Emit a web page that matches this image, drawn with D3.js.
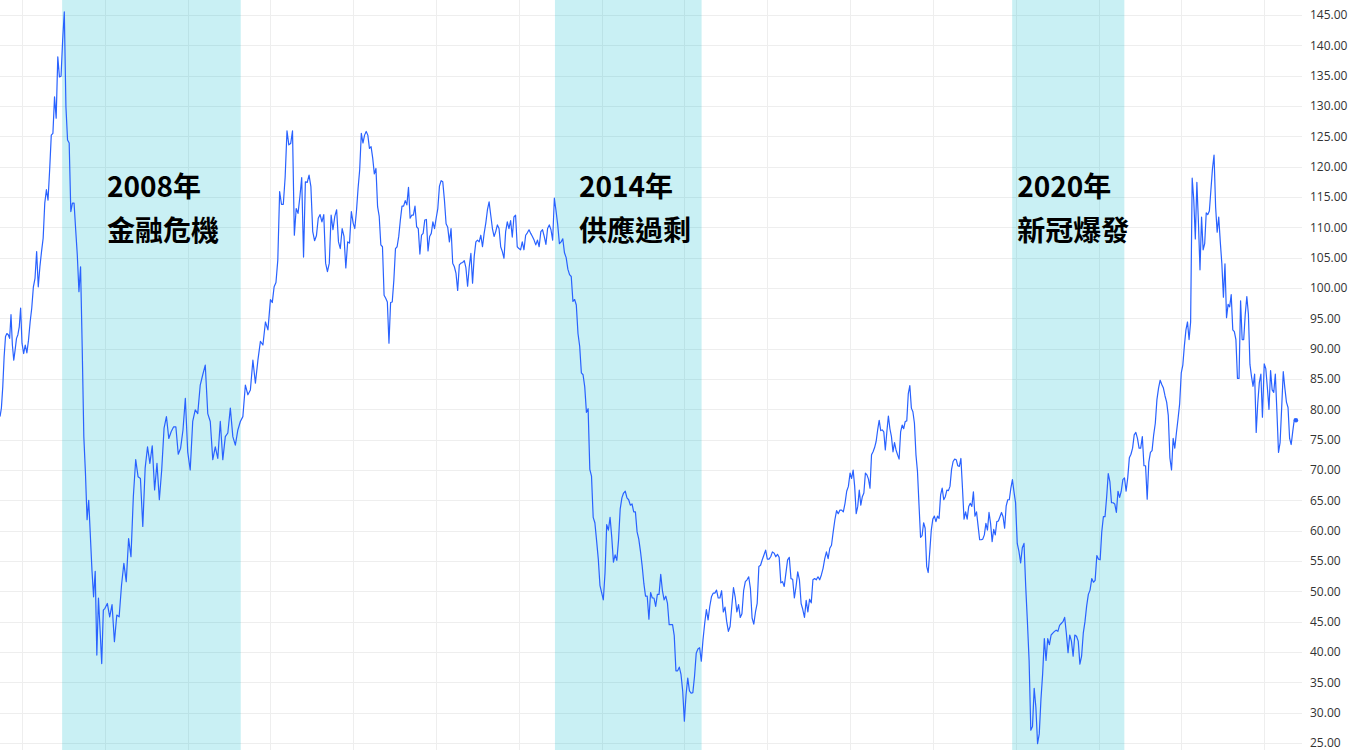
<!DOCTYPE html>
<html>
<head>
<meta charset="utf-8">
<script src="https://cdn.jsdelivr.net/npm/d3@7"></script>
<style>
html,body{margin:0;padding:0;background:#fff;overflow:hidden}
svg{display:block}
</style>
</head>
<body>
<svg id="chart" width="1353" height="750"></svg>
<script>
// ---- Data: weekly Brent crude price (USD), per calendar year ----
const seriesStart = "2007-09-26";
const brent2007 = [78.8, 80.2, 83.7, 88.7, 92.0, 92.5, 92.3, 91.7, 95.6, 90.6, 88.1, 89.8, 91.7, 92.3, 93.6, 96.7];
const brent2008 = [90.9, 89.2, 90.6, 89.3, 91.4, 94.4, 96.7, 100.2, 101.6, 106.0, 100.2, 103.5, 106.0, 108.2, 114.0, 116.2, 114.5, 119.5, 125.2, 125.5, 131.5, 128.0, 138.1, 134.8, 134.9, 140.9, 145.5, 129.9, 124.4, 123.9, 112.6, 114.0, 114.0, 109.6, 105.4, 99.4, 103.5, 90.3, 75.5, 69.5, 61.8, 65.0, 59.3, 53.5, 49.1, 53.3, 39.5, 48.9, 43.6, 38.1, 46.9];
const brent2009 = [47.2, 48.0, 45.8, 47.8, 41.7, 46.1, 45.8, 51.0, 54.6, 51.6, 58.7, 55.7, 65.6, 71.7, 68.9, 68.6, 60.7, 70.3, 73.8, 71.1, 74.0, 66.7, 71.1, 65.1, 70.0, 76.9, 78.8, 75.2, 76.3, 77.1, 77.1, 72.6, 73.6, 76.6, 81.8];
const brent2010 = [73.0, 70.0, 78.0, 79.9, 79.3, 84.0, 85.7, 87.3, 79.3, 78.0, 71.7, 73.8, 71.9, 78.0, 71.7, 75.5, 76.1, 80.2, 75.5, 74.1, 76.6, 78.0, 78.8, 84.0, 82.4, 83.2, 88.1, 84.3, 88.1, 91.2, 90.6, 94.4, 93.1];
const brent2011 = [98.1, 97.6, 100.2, 100.9, 104.6, 115.9, 113.8, 113.8, 118.3, 125.9, 123.6, 123.8, 125.9, 108.7, 113.1, 112.3, 115.0, 118.2, 105.1, 117.5, 117.4, 118.6, 116.7, 109.3, 107.8, 108.6, 111.5, 112.1, 110.9, 112.1, 104.1, 102.7, 104.1, 112.0, 109.6, 111.8, 112.9, 107.6, 106.5, 109.8, 108.5, 103.3, 107.6, 107.4, 112.6];
const brent2012 = [110.7, 109.8, 112.6, 116.4, 119.5, 125.5, 123.9, 125.2, 125.8, 125.2, 123.0, 123.3, 121.4, 118.8, 119.7, 113.4, 111.8, 107.1, 106.8, 98.8, 98.3, 97.7, 90.9, 97.6, 97.7, 101.3, 106.5, 106.8, 108.5, 111.2, 113.5, 113.5, 114.4, 113.7, 116.6, 111.5, 112.0, 112.0, 113.5, 110.1, 109.8, 105.6, 108.7, 109.0, 111.2, 111.3, 106.1, 108.5, 109.0, 110.9, 109.8];
const brent2013 = [111.5, 113.1, 116.8, 117.7, 117.5, 114.5, 110.6, 110.0, 107.6, 109.8, 104.1, 103.5, 102.4, 99.6, 103.8, 104.1, 104.2, 104.5, 103.3, 100.3, 103.5, 105.7, 100.8, 105.2, 107.6, 107.9, 107.6, 108.7, 106.8, 109.0, 110.7, 112.9, 114.2, 112.0, 109.8, 108.5, 109.3, 110.4, 109.8, 106.8, 106.0, 104.9, 109.3, 110.9, 109.8, 111.1, 108.4, 111.7, 112.0, 106.8];
const brent2014 = [106.5, 106.3, 107.6, 106.3, 108.7, 109.1, 109.6, 109.0, 108.5, 107.9, 107.1, 107.9, 106.8, 109.3, 109.6, 108.5, 107.2, 109.8, 110.4, 109.6, 107.9, 114.8, 112.7, 110.4, 107.3, 107.6, 108.1, 105.8, 105.0, 103.1, 102.2, 101.9, 97.8, 98.1, 97.2, 92.5, 90.4, 86.0, 85.7, 83.7, 79.5, 80.1, 70.1, 69.0, 62.2, 61.3, 58.4, 55.4, 51.0];
const brent2015 = [49.8, 48.6, 53.0, 61.0, 60.1, 62.2, 58.9, 54.8, 56.0, 55.1, 58.4, 63.6, 65.4, 66.2, 66.5, 65.4, 65.1, 64.2, 64.4, 63.1, 63.1, 59.8, 58.6, 56.6, 54.2, 51.3, 49.2, 49.2, 45.4, 49.8, 48.9, 48.9, 47.5, 49.5, 49.5, 52.8, 50.1, 48.6, 49.2, 48.0, 44.5, 44.5, 44.5, 42.7, 36.9, 36.9, 37.5, 36.3, 33.6];
const brent2016 = [28.6, 33.0, 35.7, 33.6, 33.2, 33.3, 36.0, 39.8, 40.5, 40.7, 38.5, 42.0, 44.7, 47.0, 45.3, 47.5, 49.1, 49.7, 49.7, 50.2, 48.9, 48.9, 50.1, 46.6, 47.4, 45.0, 43.4, 44.2, 47.5, 50.6, 49.1, 46.6, 47.8, 45.7, 46.3, 50.1, 51.6, 51.9, 52.4, 50.5, 45.6, 44.6, 46.6, 48.0, 54.1, 54.3, 55.2, 56.0, 56.8];
const brent2017 = [55.3, 55.3, 55.7, 56.5, 56.3, 55.7, 56.1, 55.6, 51.4, 51.6, 50.8, 53.0, 55.2, 55.6, 52.1, 52.0, 48.9, 50.8, 53.2, 51.9, 48.0, 47.0, 45.7, 48.5, 46.6, 48.7, 48.1, 51.9, 52.1, 51.9, 52.4, 51.9, 52.7, 53.8, 55.4, 56.5, 55.4, 57.1, 57.6, 59.8, 61.8, 63.3, 62.8, 63.4, 63.4, 63.1, 64.5, 66.5, 67.3];
const brent2018 = [69.5, 68.6, 70.0, 67.3, 62.8, 64.0, 66.7, 64.2, 65.6, 66.2, 69.5, 69.2, 68.5, 67.0, 72.5, 73.0, 73.7, 74.7, 76.6, 78.2, 76.5, 76.6, 76.3, 73.3, 76.3, 78.9, 76.8, 75.5, 73.0, 74.5, 73.3, 72.5, 71.8, 76.3, 77.4, 76.8, 78.0, 78.1, 82.6, 83.9, 80.2, 79.6, 77.7, 72.5, 69.7, 64.2, 58.9, 59.2, 61.3, 60.4, 54.1, 53.1, 56.5, 60.1];
const brent2019 = [61.9, 62.4, 61.5, 62.4, 62.0, 65.9, 67.0, 65.1, 65.6, 66.7, 66.6, 67.3, 70.1, 71.4, 71.8, 71.7, 70.7, 70.6, 71.9, 67.0, 61.9, 63.1, 61.9, 64.0, 64.5, 64.0, 66.4, 62.4, 63.1, 60.8, 58.5, 58.5, 58.6, 59.3, 61.2, 60.1, 63.0, 61.2, 58.2, 60.2, 59.3, 61.5, 61.6, 62.3, 63.0, 62.3, 60.4, 64.1, 65.1, 65.1, 67.0, 68.4, 66.4];
const brent2020 = [64.6, 57.9, 56.6, 54.7, 57.2, 57.9, 50.8, 45.0, 38.6, 27.1, 27.7, 34.0, 30.9, 24.9, 26.5, 32.2, 36.4, 42.2, 38.6, 42.2, 41.2, 42.8, 43.1, 43.4, 43.6, 43.4, 44.4, 44.7, 45.0, 45.7, 43.1, 39.9, 42.8, 41.8, 39.3, 42.8, 42.6, 41.8, 38.0, 39.3, 43.1, 45.0, 47.6, 49.5, 50.2, 52.1, 51.5, 51.8, 55.9];
const brent2021 = [55.3, 55.2, 59.8, 62.3, 62.3, 65.5, 69.4, 68.1, 64.6, 64.6, 64.4, 63.0, 66.5, 65.5, 66.5, 68.4, 68.7, 66.5, 68.7, 72.0, 72.6, 73.6, 75.8, 76.2, 75.2, 73.6, 73.6, 75.5, 70.7, 70.7, 65.2, 71.3, 72.9, 73.2, 75.8, 77.7, 81.6, 83.5, 84.8, 84.1, 83.5, 82.2, 81.2, 79.0, 72.0, 70.0, 75.2, 73.6, 76.1, 78.4, 80.9];
const brent2022 = [86.0, 87.3, 90.5, 93.1, 94.4, 91.5, 94.4, 118.1, 114.6, 108.1, 117.4, 110.8, 103.0, 111.7, 106.3, 107.3, 112.4, 112.1, 112.7, 116.2, 119.7, 121.9, 113.4, 109.2, 111.7, 107.6, 104.0, 98.5, 104.0, 95.1, 97.3, 96.9, 98.9, 93.1, 92.8, 91.5, 85.1, 85.1, 97.9, 91.5, 91.5, 95.7, 98.6, 95.7, 87.4, 85.4, 83.8, 85.8, 76.2, 81.0, 84.4, 85.8, 78.7];
const brent2023 = [87.5, 86.7, 83.5, 80.0, 86.4, 83.2, 82.8, 85.8, 79.6, 72.9, 74.5, 80.3, 86.2, 83.5, 81.2, 80.3, 75.2, 74.2, 76.4, 78.4, 78.2];

// Axis ticks
const yTicks = [25, 30, 35, 40, 45, 50, 55, 60, 65, 70, 75, 80, 85, 90, 95, 100, 105, 110, 115, 120, 125, 130, 135, 140, 145];

// Crisis periods (shaded) and their annotations
const periodStarts = ["2008-06-26", "2014-06-09", "2019-12-17"];
const periodEnds   = ["2010-08-23", "2016-03-17", "2021-04-25"];
const periodYears  = ["2008年", "2014年", "2020年"];
const periodNames  = ["金融危機", "供應過剩", "新冠爆發"];
const labelDates   = ["2009-01-10", "2014-09-23", "2020-01-08"];

// ---- Build series ----
const parse = d3.utcParse("%Y-%m-%d");
const yearly = [
  [2007, brent2007],[2008, brent2008],[2009, brent2009],[2010, brent2010],[2011, brent2011],
  [2012, brent2012],[2013, brent2013],[2014, brent2014],[2015, brent2015],[2016, brent2016],
  [2017, brent2017],[2018, brent2018],[2019, brent2019],[2020, brent2020],[2021, brent2021],
  [2022, brent2022],[2023, brent2023]
];
const DAY = 864e5;
const data = [];
yearly.forEach(([yr, vals]) => {
  let s, e;
  if (yr === 2007) { s = +parse(seriesStart); e = Date.UTC(2008, 0, 1); }
  else if (yr === 2023) { s = Date.UTC(2023, 0, 2); e = s + vals.length * 7 * DAY; }
  else { s = Date.UTC(yr, 0, 1); e = Date.UTC(yr + 1, 0, 1); }
  vals.forEach((v, i) => data.push({ date: new Date(s + (e - s) * i / vals.length), value: v }));
});

// ---- Layout ----
const W = 1353, H = 750;
const plotRight = 1302;
const svg = d3.select("#chart");

const x = d3.scaleUtc()
  .domain([new Date(Date.UTC(2008, 0, 1)), new Date(Date.UTC(2023, 0, 1))])
  .range([22, 1264]);
const y = d3.scaleLinear().domain([25, 145]).range([743, 15]);

svg.append("rect").attr("width", W).attr("height", H).attr("fill", "#ffffff");

// Horizontal grid
svg.append("g").attr("class", "hgrid")
  .selectAll("line").data(yTicks).join("line")
  .attr("x1", 0).attr("x2", plotRight)
  .attr("y1", d => Math.round(y(d)) + 0.5).attr("y2", d => Math.round(y(d)) + 0.5)
  .attr("stroke", "#eeeeee").attr("stroke-width", 1);

// Vertical grid (years)
const yearTicks = x.ticks(d3.utcYear.every(1));
svg.append("g").attr("class", "vgrid")
  .selectAll("line").data(yearTicks).join("line")
  .attr("x1", d => Math.round(x(d)) + 0.5).attr("x2", d => Math.round(x(d)) + 0.5)
  .attr("y1", 0).attr("y2", H)
  .attr("stroke", "#eeeeee").attr("stroke-width", 1);

// Shaded periods
const periods = periodStarts.map((s, i) => ({
  start: parse(s), end: parse(periodEnds[i]), year: periodYears[i], name: periodNames[i], label: parse(labelDates[i])
}));
svg.append("g").attr("class", "shade")
  .selectAll("rect").data(periods).join("rect")
  .attr("x", d => x(d.start)).attr("width", d => x(d.end) - x(d.start))
  .attr("y", 0).attr("height", H)
  .attr("fill", "#00b6ca").attr("fill-opacity", 0.21);

// Price line
const line = d3.line().x(d => x(d.date)).y(d => y(d.value));
svg.append("path").datum(data)
  .attr("d", line)
  .attr("fill", "none")
  .attr("stroke", "#2962ff")
  .attr("stroke-width", 1.2)
  .attr("stroke-linejoin", "round");

const last = data[data.length - 1];
svg.append("circle").attr("cx", x(last.date)).attr("cy", y(last.value)).attr("r", 2.2).attr("fill", "#2962ff");

// Annotations
const ann = svg.append("g").attr("class", "annotations")
  .attr("font-family", "'Noto Sans CJK TC', 'Noto Sans CJK SC', 'Noto Sans', sans-serif")
  .attr("font-weight", 700).attr("font-size", 28).attr("fill", "#000");
ann.selectAll("text.yr").data(periods).join("text").attr("class", "yr")
  .attr("x", d => x(d.label)).attr("y", 197).text(d => d.year);
ann.selectAll("text.nm").data(periods).join("text").attr("class", "nm")
  .attr("x", d => x(d.label)).attr("y", 241).text(d => d.name);

// Right axis labels
const axis = d3.axisRight(y).tickValues(yTicks).tickFormat(d3.format(".2f")).tickSize(0).tickPadding(8);
const gAxis = svg.append("g").attr("transform", `translate(${plotRight},0)`).call(axis);
gAxis.select(".domain").remove();
gAxis.selectAll("text")
  .attr("font-family", "'Open Sans', 'Noto Sans', sans-serif")
  .attr("font-size", 12).attr("fill", "#333");
</script>
</body>
</html>
